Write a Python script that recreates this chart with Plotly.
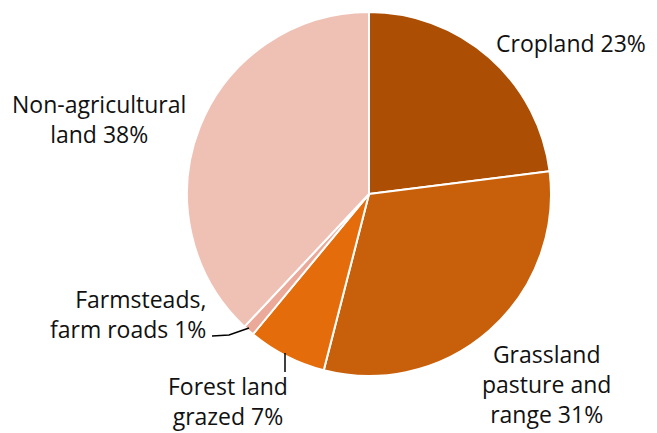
import plotly.graph_objects as go

categories = ["Cropland", "Grassland pasture and range", "Forest land grazed",
              "Farmsteads, farm roads", "Non-agricultural land"]
values = [23, 31, 7, 1, 38]
label_text = ["Cropland 23%", "Grassland<br>pasture and<br>range 31%", "Forest land<br>grazed 7%",
              "Farmsteads,<br>farm roads 1%", "Non-agricultural<br>land 38%"]
colors = ["#AC4F04", "#C85F0A", "#E46C0A", "#EBA999", "#EFC1B5"]

W, H = 657, 433
OX, OY = 8, 8  # page body margin
fig = go.Figure()
fig.add_trace(go.Pie(
    labels=categories, values=values, sort=False, direction="clockwise", rotation=0,
    marker=dict(colors=colors, line=dict(color="white", width=2)),
    textinfo="none", hoverinfo="label+percent", showlegend=False,
    domain=dict(x=[179/W, 543/W], y=[1-368/H, 1-4/H]),
))

font = dict(family="Open Sans, Liberation Sans, sans-serif", size=23, color="#111111")
def px(x): return (x - OX) / W
def py(y): return 1 - (y - OY) / H

ann = [
    dict(x=px(494), y=py(43), text=label_text[0], xanchor="left", yanchor="middle", align="left"),
    dict(x=px(546), y=py(384), text=label_text[1], xanchor="center", yanchor="middle", align="center"),
    dict(x=px(228), y=py(401), text=label_text[2], xanchor="center", yanchor="middle", align="center"),
    dict(x=px(208), y=py(314), text=label_text[3], xanchor="right", yanchor="middle", align="right"),
    dict(x=px(99), y=py(119), text=label_text[4], xanchor="center", yanchor="middle", align="center"),
]
for a in ann:
    a.update(xref="paper", yref="paper", showarrow=False, font=font)

shapes = [
    dict(type="path", xref="paper", yref="paper",
         path=f"M {px(212)} {py(336)} L {px(229)} {py(335)} L {px(249)} {py(328)}",
         line=dict(color="black", width=1.5)),
    dict(type="line", xref="paper", yref="paper", x0=px(285), y0=py(353), x1=px(285), y1=py(372),
         line=dict(color="black", width=1.5)),
]

fig.update_layout(width=W, height=H, margin=dict(l=0, r=0, t=0, b=0),
                  paper_bgcolor="white", plot_bgcolor="white",
                  annotations=ann, shapes=shapes)
fig.write_html("out.html")
